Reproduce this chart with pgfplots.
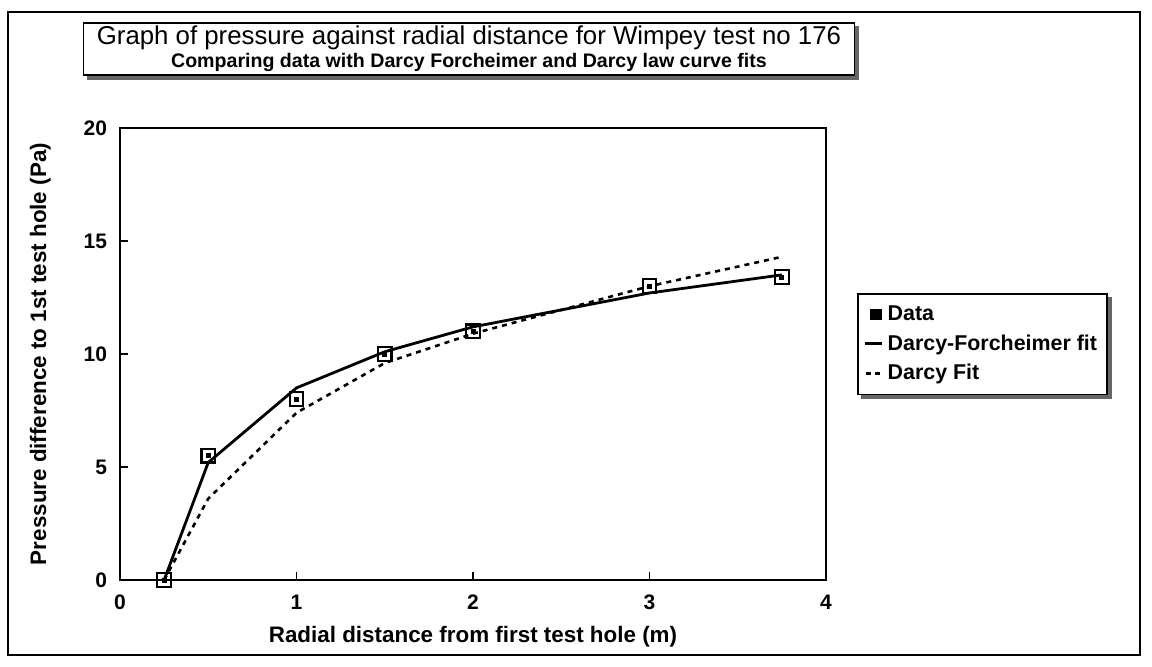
\documentclass[border=0pt]{standalone}
\usepackage{pgfplots}
\pgfplotsset{compat=1.18}
\usepackage{fontspec}
\setmainfont{Liberation Sans}
\begin{document}
\begin{tikzpicture}
% page frame (1px = 0.5pt)
\path[use as bounding box] (0,0) rectangle (576pt,-333.5pt);
\draw[line width=0.8pt] (4pt,-6pt) rectangle (570pt,-327.5pt);
% title box
\node[draw, line width=0.8pt, fill=white, align=center, inner sep=1.5pt,
      minimum width=385.5pt, minimum height=22pt, name=ttl]
  at (234.5pt,-24.5pt)
  {{\fontsize{12.9}{14}\selectfont Graph of pressure against radial distance for Wimpey test no 176}\\[-0.5pt]
   {\fontsize{9.8}{11}\selectfont\bfseries Comparing data with Darcy Forcheimer and Darcy law curve fits}};
\fill[black!60] ([xshift=2pt]ttl.south west) rectangle ([xshift=2pt,yshift=-2pt]ttl.south east);
\fill[black!60] ([yshift=-2pt]ttl.north east) rectangle ([xshift=2pt]ttl.south east);
\begin{axis}[
  at={(60pt,-290pt)}, anchor=south west,
  scale only axis, width=353pt, height=226pt,
  xmin=0, xmax=4, ymin=0, ymax=20,
  xtick={0,1,2,3,4}, ytick={0,5,10,15,20},
  tick pos=left,
  tick align=inside, major tick length=4pt,
  axis line style={line width=1pt}, every tick/.style={line width=0.9pt, black},
  /pgf/number format/assume math mode=true,
  ticklabel style={font=\fontsize{10.5}{11}\selectfont\bfseries},
  xticklabel style={yshift=-4pt},
  yticklabel style={xshift=-3pt},
  xlabel={Radial distance from first test hole (m)},
  ylabel={Pressure difference to 1st test hole (Pa)},
  label style={font=\fontsize{11.2}{12}\selectfont\bfseries},
  xlabel style={at={(axis description cs:0.5,-0.126)}, anchor=center},
  ylabel style={at={(axis description cs:-0.113,0.5)}, anchor=center, rotate=0},
  legend style={at={(axis description cs:1.044,0.635)}, anchor=north west,
    draw, line width=0.8pt, font=\fontsize{10.7}{12}\selectfont\bfseries,
    row sep=1.5pt, inner xsep=3pt, inner ysep=4pt, minimum width=0pt,
    /tikz/every even column/.append style={column sep=3pt},
    name=leg},
  legend cell align=left,
]
\addplot[only marks, mark=square, mark size=3.4pt, mark options={line width=1.1pt, fill=white},
  legend image code/.code={\draw[fill=black, line width=0.5pt] (0.1cm,-0.09cm) rectangle (0.28cm,0.09cm);}]
  coordinates {(0.25,0) (0.5,5.5) (1,8) (1.5,10) (2,11) (3,13) (3.75,13.4)};
\addlegendentry{Data}
\addplot[black, line width=1.4pt, line join=round,
  legend image code/.code={\draw[line width=1.4pt] (0cm,0cm) -- (0.3cm,0cm);}]
  coordinates {(0.25,0) (0.5,5.2) (1,8.5) (1.5,10.1) (2,11.2) (3,12.7) (3.75,13.5)};
\addlegendentry{Darcy-Forcheimer fit}
\addplot[black, line width=1.3pt, dash pattern=on 2.5pt off 2.5pt,
  legend image code/.code={\draw[line width=1.3pt, dash pattern=on 2.5pt off 2pt] (0.02cm,0cm) -- (0.3cm,0cm);}]
  coordinates {(0.25,0) (0.5,3.6) (1,7.4) (1.5,9.6) (2,10.9) (3,13.0) (3.75,14.3)};
\addlegendentry{Darcy Fit}
\addplot[only marks, mark=square*, mark size=1pt, forget plot]
  coordinates {(0.25,0) (0.5,5.5) (1,8) (1.5,10) (2,11) (3,13) (3.75,13.4)};
\end{axis}
\fill[black!60] ([xshift=2pt]leg.south west) rectangle ([xshift=2pt,yshift=-2pt]leg.south east);
\fill[black!60] ([yshift=-2pt]leg.north east) rectangle ([xshift=2pt]leg.south east);
\end{tikzpicture}
\end{document}
